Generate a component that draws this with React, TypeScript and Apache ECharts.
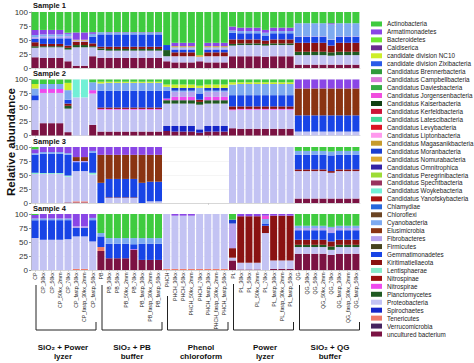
import React, { useEffect, useRef } from "react";
import * as echarts from "echarts";

// ---------- categories ----------
const categories = [
  "CP", "CP_30kx", "CP_50kx", "CP_50kx_2mm", "CP_70kx", "CP_fastp_30kx", "CP_fastp_30kx_2mm", "CP_fastp_50kx",
  "PB", "PB_30kx", "PB_50kx", "PB_50kx_2mm", "PB_70kx", "PB_fastp_30kx", "PB_fastp_30kx_2mm", "PB_fastp_50kx",
  "PHCH", "PHCH_30kx", "PHCH_50kx", "PHCH_50kx_2mm", "PHCH_70kx", "PHCH_fastp_30kx", "PHCH_fastp_30kx_2mm", "PHCH_fastp_50kx",
  "PL", "PL_30kx", "PL_50kx", "PL_50kx_2mm", "PL_70kx", "PL_fastp_30kx", "PL_fastp_30kx_2mm", "PL_fastp_50kx",
  "QG", "QG_30kx", "QG_50kx", "QG_50kx_2mm", "QG_70kx", "QG_fastp_30kx", "QG_fastp_30kx_2mm", "QG_fastp_50kx",
];
const yTicks = [0, 25, 50, 75, 100];
const panelTitles = ["Sample 1", "Sample 2", "Sample 3", "Sample 4"];
const groupLabels = ["SiO\u2082 + Power\nlyzer", "SiO\u2082 + PB\nbuffer", "Phenol\nchloroform", "Power\nlyzer", "SiO\u2082 + QG\nbuffer"];

// ---------- taxa (legend order) ----------
const taxa = [
  "Actinobacteria", "Armatimonadetes", "Bacteroidetes", "Caldiserica", "candidate division NC10",
  "candidate division Zixibacteria", "Candidatus Brennerbacteria", "Candidatus Campbellbacteria",
  "Candidatus Daviesbacteria", "Candidatus Jorgensenbacteria", "Candidatus Kaiserbacteria",
  "Candidatus Kerfeldbacteria", "Candidatus Latescibacteria", "Candidatus Levybacteria",
  "Candidatus Liptonbacteria", "Candidatus Magasanikbacteria", "Candidatus Moranbacteria",
  "Candidatus Nomurabacteria", "Candidatus Omnitrophica", "Candidatus Peregrinibacteria",
  "Candidatus Spechtbacteria", "Candidatus Woykebacteria", "Candidatus Yanofskybacteria",
  "Chlamydiae", "Chloroflexi", "Cyanobacteria", "Elusimicrobia", "Fibrobacteres", "Firmicutes",
  "Gemmatimonadetes", "Kiritimatiellaeota", "Lentisphaerae", "Nitrospinae", "Nitrospirae",
  "Planctomycetes", "Proteobacteria", "Spirochaetes", "Tenericutes", "Verrucomicrobia",
  "uncultured bacterium",
];
const taxaColors = [
  "#3fcb3f", "#8a46e6", "#6ee830", "#6b2d8f", "#cdee2a",
  "#2a5ae8", "#2f9a3a", "#d97ad9",
  "#35ac45", "#f04ede", "#123f12",
  "#cc1438", "#45d89a", "#dc1424",
  "#ff9aee", "#c79b2e", "#1a3ed0",
  "#dba935", "#3323a6", "#9ddc36",
  "#99335f", "#72f0d6", "#a81212",
  "#2767dc", "#6b4423", "#7eaaf0", "#8a3412", "#b6a2ee", "#45431f",
  "#1844e6", "#8a1212", "#86eccb", "#9a1111", "#ee4aee",
  "#1f5a22", "#c3c3f3", "#1526c8", "#ee7a68", "#46245f",
  "#7b1243",
];

// ---------- Sample 1 ----------
const s1Uncultured = [19, 18, 18, 18, 12, 4, 4, 21, 18, 18, 18, 18, 18, 18, 18, 18, 12, 10, 10, 10, 12, 10, 10, 10, 21, 21, 21, 21, 20, 21, 21, 21, 6, 6, 6, 6, 6, 6, 6, 6];
const s1Proteo = [17, 19, 19, 19, 21, 33, 33, 16, 14, 13, 13, 13, 13, 13, 13, 13, 9, 11, 11, 11, 8, 11, 11, 11, 19, 20, 20, 20, 20, 20, 20, 20, 17, 17, 17, 17, 16, 17, 17, 17];
const s1Plancto = [3, 2, 2, 2, 3, 4, 4, 2, 3, 3, 3, 3, 3, 3, 3, 3, 11, 0, 0, 0, 0, 0, 0, 0, 3, 3, 3, 3, 3, 3, 3, 3, 6, 6, 6, 6, 6, 6, 6, 6];
const s1Kiriti = [7, 4, 4, 4, 4, 6, 6, 5, 3, 4, 4, 4, 4, 4, 4, 4, 0, 7, 7, 7, 0, 7, 7, 7, 8, 7, 7, 7, 6, 7, 7, 7, 16, 16, 16, 16, 12, 16, 16, 16];
const s1Gemma = [6, 10, 10, 10, 13, 0, 0, 12, 22, 22, 22, 22, 22, 22, 22, 22, 9, 5, 5, 5, 0, 5, 5, 5, 12, 11, 11, 11, 9, 11, 11, 11, 11, 11, 11, 11, 10, 11, 11, 11];
const s1Fibro = [3, 3, 3, 3, 4, 2, 2, 0, 0, 0, 0, 0, 0, 0, 0, 0, 0, 2, 2, 2, 0, 2, 2, 2, 0, 0, 0, 0, 0, 0, 0, 0, 1, 1, 1, 1, 1, 1, 1, 1];
const s1Cyano = [4, 4, 4, 4, 4, 0, 0, 5, 4, 3, 3, 3, 3, 3, 3, 3, 0, 2, 2, 2, 0, 2, 2, 2, 4, 4, 4, 4, 5, 4, 4, 4, 23, 23, 23, 23, 27, 23, 23, 23];
const s1Nomura = [0, 0, 0, 0, 0, 1.5, 1.5, 0, 0, 0, 0, 0, 0, 0, 0, 0, 0, 2, 2, 2, 3, 2, 2, 2, 0, 0, 0, 0, 0, 0, 0, 0, 0, 0, 0, 0, 0, 0, 0, 0];
const s1Armati = [9, 8, 8, 8, 2, 13, 13, 3, 0, 1, 1, 1, 1, 1, 1, 1, 0, 6, 6, 6, 0, 6, 6, 6, 7, 6, 6, 6, 5, 6, 6, 6, 0, 0, 0, 0, 2, 0, 0, 0];
const s1Actino = [32, 32, 32, 32, 37, 36.5, 36.5, 36, 36, 36, 36, 36, 36, 36, 36, 36, 59, 55, 55, 55, 77, 55, 55, 55, 26, 28, 28, 28, 32, 28, 28, 28, 20, 20, 20, 20, 20, 20, 20, 20];

// ---------- Sample 2 ----------
const s2Uncultured = [10, 22, 22, 22, 6, 0, 0, 19, 7, 7, 7, 7, 7, 7, 7, 7, 8, 7, 7, 7, 5, 7, 7, 7, 13, 12, 12, 12, 12, 12, 12, 12, 0, 0, 0, 0, 0, 0, 0, 0];
const s2Spiro = [0, 0, 0, 0, 0, 0, 0, 0, 0, 0, 0, 0, 0, 0, 0, 0, 9, 10, 10, 10, 6, 10, 10, 10, 0, 0, 0, 0, 0, 0, 0, 0, 0, 0, 0, 0, 0, 0, 0, 0];
const s2Proteo = [53, 54, 54, 54, 42, 68, 68, 56, 39, 39, 39, 39, 39, 39, 39, 39, 40, 40, 40, 40, 44, 40, 40, 40, 32, 34, 34, 34, 34, 34, 34, 34, 7, 7, 7, 7, 7, 7, 7, 7];
const s2Plancto = [0, 0, 0, 0, 5, 0, 0, 0, 0, 0, 0, 0, 0, 0, 0, 0, 6, 6, 6, 6, 5, 6, 6, 6, 0, 0, 0, 0, 0, 0, 0, 0, 0, 0, 0, 0, 0, 0, 0, 0];
const s2Nitrospirae = [0, 7, 7, 7, 0, 0, 0, 6, 1.5, 1.5, 1.5, 1.5, 1.5, 1.5, 1.5, 1.5, 3, 6, 6, 6, 0, 6, 6, 6, 1.5, 1.5, 1.5, 1.5, 1.5, 1.5, 1.5, 1.5, 0, 0, 0, 0, 0, 0, 0, 0];
const s2Kiriti = [0, 0, 0, 0, 4, 0, 0, 0, 2.5, 2.5, 2.5, 2.5, 2.5, 2.5, 2.5, 2.5, 0, 0, 0, 0, 4, 0, 0, 0, 5.5, 4.5, 4.5, 4.5, 4.5, 4.5, 4.5, 4.5, 0, 0, 0, 0, 0, 0, 0, 0];
const s2Gemma = [9, 0, 0, 0, 7, 0, 0, 0, 30, 30, 30, 30, 30, 30, 30, 30, 14, 0, 0, 0, 11, 0, 0, 0, 20, 20, 20, 20, 20, 20, 20, 20, 29, 29, 29, 29, 29, 29, 29, 29];
const s2Fibro = [0, 0, 0, 0, 0, 0, 0, 0, 0, 0, 0, 0, 0, 0, 0, 0, 0, 9, 9, 9, 0, 9, 9, 9, 0, 0, 0, 0, 0, 0, 0, 0, 0, 0, 0, 0, 0, 0, 0, 0];
const s2Elusi = [0, 0, 0, 0, 0, 0, 0, 0, 0, 0, 0, 0, 0, 0, 0, 0, 0, 0, 0, 0, 0, 0, 0, 0, 0, 0, 0, 0, 0, 0, 0, 0, 48, 48, 48, 48, 48, 48, 48, 48];
const s2Cyano = [12, 9, 9, 9, 17, 0, 0, 14, 13, 14, 14, 14, 14, 14, 14, 14, 7, 2, 2, 2, 10, 2, 2, 2, 19, 20, 20, 20, 20, 20, 20, 20, 0, 0, 0, 0, 0, 0, 0, 0];
const s2Moran = [0, 0, 0, 0, 0, 0, 0, 0, 0, 0, 0, 0, 0, 0, 0, 0, 0, 5, 5, 5, 0, 5, 5, 5, 0, 0, 0, 0, 0, 0, 0, 0, 0, 0, 0, 0, 0, 0, 0, 0];
const s2Woyke = [0, 0, 0, 0, 0, 32, 32, 0, 0, 0, 0, 0, 0, 0, 0, 0, 0, 0, 0, 0, 0, 0, 0, 0, 0, 0, 0, 0, 0, 0, 0, 0, 0, 0, 0, 0, 0, 0, 0, 0];
const s2NC10 = [8, 0, 0, 0, 13, 0, 0, 0, 3, 2, 2, 2, 2, 2, 2, 2, 4, 6, 6, 6, 4, 6, 6, 6, 4, 3, 3, 3, 3, 3, 3, 3, 0, 0, 0, 0, 0, 0, 0, 0];
const s2Armati = [0, 0, 0, 0, 0, 0, 0, 0, 0, 0, 0, 0, 0, 0, 0, 0, 0, 0, 0, 0, 0, 0, 0, 0, 0, 0, 0, 0, 0, 0, 0, 0, 16, 16, 16, 16, 16, 16, 16, 16];
const s2Actino = [8, 8, 8, 8, 6, 0, 0, 5, 4, 4, 4, 4, 4, 4, 4, 4, 9, 9, 9, 9, 11, 9, 9, 9, 5, 5, 5, 5, 5, 5, 5, 5, 0, 0, 0, 0, 0, 0, 0, 0];

// ---------- Sample 3 ----------
const s3Uncultured = [0, 0, 0, 0, 1, 1, 1, 0, 0, 0, 0, 0, 0, 0, 0, 0, 0, 0, 0, 0, 0, 0, 0, 0, 0, 0, 0, 0, 0, 0, 0, 0, 8, 8, 8, 8, 8, 8, 8, 8];
const s3Teneri = [0, 0, 0, 0, 0, 2, 2, 0, 0, 0, 0, 0, 0, 0, 0, 0, 0, 0, 0, 0, 0, 0, 0, 0, 0, 0, 0, 0, 0, 0, 0, 0, 0, 0, 0, 0, 0, 0, 0, 0];
const s3Proteo = [52, 52, 52, 52, 46, 54, 54, 51, 0, 9, 9, 9, 9, 0, 3, 3, 0, 0, 0, 0, 0, 0, 0, 0, 100, 100, 100, 100, 100, 100, 100, 100, 49, 49, 49, 49, 46, 49, 49, 49];
const s3Lentis = [2, 1.5, 1.5, 1.5, 2, 0, 0, 3, 0, 0, 0, 0, 0, 0, 0, 0, 0, 0, 0, 0, 0, 0, 0, 0, 0, 0, 0, 0, 0, 0, 0, 0, 0, 0, 0, 0, 0, 0, 0, 0];
const s3Kiriti = [0, 0, 0, 0, 0, 0, 0, 0, 0, 1, 1, 1, 1, 0, 0, 0, 0, 0, 0, 0, 0, 0, 0, 0, 0, 0, 0, 0, 0, 0, 0, 0, 3, 3, 3, 3, 3, 3, 3, 3];
const s3Gemma = [32, 34.5, 34.5, 34.5, 37, 16, 16, 36, 36, 33, 33, 33, 33, 36, 35, 35, 0, 0, 0, 0, 0, 0, 0, 0, 0, 0, 0, 0, 0, 0, 0, 0, 26, 26, 26, 26, 28, 26, 26, 26];
const s3Fibro = [0, 0, 0, 0, 0, 2, 2, 0, 0, 0, 0, 0, 0, 0, 0, 0, 0, 0, 0, 0, 0, 0, 0, 0, 0, 0, 0, 0, 0, 0, 0, 0, 0, 0, 0, 0, 0, 0, 0, 0];
const s3Elusi = [0, 0, 0, 0, 0, 7, 7, 0, 50, 43, 43, 43, 43, 50, 48, 48, 0, 0, 0, 0, 0, 0, 0, 0, 0, 0, 0, 0, 0, 0, 0, 0, 0, 0, 0, 0, 0, 0, 0, 0];
const s3Cyano = [3, 3, 3, 3, 3, 0, 0, 3, 0, 0, 0, 0, 0, 0, 0, 0, 0, 0, 0, 0, 0, 0, 0, 0, 0, 0, 0, 0, 0, 0, 0, 0, 7, 7, 7, 7, 7, 7, 7, 7];
const s3Armati = [7, 9, 9, 9, 11, 18, 18, 7, 14, 14, 14, 14, 14, 14, 14, 14, 0, 0, 0, 0, 0, 0, 0, 0, 0, 0, 0, 0, 0, 0, 0, 0, 0, 0, 0, 0, 0, 0, 0, 0];
const s3Actino = [4, 0, 0, 0, 0, 0, 0, 0, 0, 0, 0, 0, 0, 0, 0, 0, 0, 0, 0, 0, 0, 0, 0, 0, 0, 0, 0, 0, 0, 0, 0, 0, 7, 7, 7, 7, 8, 7, 7, 7];

// ---------- Sample 4 ----------
const s4Uncultured = [0, 0, 0, 0, 0, 0, 0, 0, 34, 21, 21, 21, 36, 18, 18, 18, 0, 0, 0, 0, 0, 0, 0, 0, 17, 1, 1, 1, 0, 2, 2, 2, 29, 29, 29, 29, 27, 29, 29, 29];
const s4Teneri = [0, 0, 0, 0, 0, 2, 2, 0, 7, 0, 0, 0, 0, 0, 0, 0, 2, 2, 2, 2, 2, 2, 2, 2, 0, 0, 0, 0, 0, 0, 0, 0, 0, 0, 0, 0, 0, 0, 0, 0];
const s4Proteo = [57, 54, 54, 54, 55, 58, 58, 51, 0, 0, 0, 0, 0, 0, 0, 0, 98, 95, 95, 95, 98, 98, 98, 98, 5, 12, 12, 12, 66, 15, 15, 15, 12, 12, 12, 12, 9, 12, 12, 12];
const s4Plancto = [0, 0, 0, 0, 0, 0, 0, 0, 0, 0, 0, 0, 0, 0, 0, 0, 0, 0, 0, 0, 0, 0, 0, 0, 0, 0, 0, 0, 0, 0, 0, 0, 4, 4, 4, 4, 6, 4, 4, 4];
const s4Nitrospirae = [0, 0, 0, 0, 0, 0, 0, 0, 0, 0, 0, 0, 1, 0, 0, 0, 0, 0, 0, 0, 0, 0, 0, 0, 0, 0, 0, 0, 0, 0, 0, 0, 0, 0, 0, 0, 0, 0, 0, 0];
const s4Kiriti = [0, 0, 0, 0, 0, 0, 0, 0, 0, 0, 0, 0, 0, 0, 0, 0, 0, 0, 0, 0, 0, 0, 0, 0, 17, 83, 83, 83, 13, 80, 80, 80, 9, 9, 9, 9, 9, 9, 9, 9];
const s4Gemma = [32, 35, 35, 35, 34, 15, 15, 38, 19, 26, 26, 26, 9, 29, 29, 29, 0, 0, 0, 0, 0, 0, 0, 0, 0, 0, 0, 0, 4, 0, 0, 0, 17, 17, 17, 17, 15, 17, 17, 17];
const s4Fibro = [0, 0, 0, 0, 0, 3, 3, 0, 0, 0, 0, 0, 0, 0, 0, 0, 0, 0, 0, 0, 0, 0, 0, 0, 44, 0, 0, 0, 0, 0, 0, 0, 4, 4, 4, 4, 9, 4, 4, 4];
const s4Cyano = [3, 3, 3, 3, 3, 0, 0, 4, 6, 10, 10, 10, 11, 10, 10, 10, 0, 0, 0, 0, 0, 0, 0, 0, 0, 0, 0, 0, 8, 0, 0, 0, 4, 4, 4, 4, 2, 4, 4, 4];
const s4Moran = [0, 0, 0, 0, 0, 0, 0, 0, 0, 0, 0, 0, 0, 0, 0, 0, 0, 0, 0, 0, 0, 0, 0, 0, 7, 0, 0, 0, 0, 0, 0, 0, 0, 0, 0, 0, 0, 0, 0, 0];
const s4Jorgen = [0, 0, 0, 0, 0, 0, 0, 0, 0, 0, 0, 0, 0, 0, 0, 0, 0, 0, 0, 0, 0, 0, 0, 0, 0, 0, 0, 0, 6, 0, 0, 0, 0, 0, 0, 0, 0, 0, 0, 0];
const s4Armati = [6, 8, 8, 8, 8, 22, 22, 7, 0, 0, 0, 0, 0, 0, 0, 0, 0, 3, 3, 3, 0, 0, 0, 0, 0, 4, 4, 4, 3, 3, 3, 3, 0, 0, 0, 0, 0, 0, 0, 0];
const s4Actino = [2, 0, 0, 0, 0, 0, 0, 0, 34, 43, 43, 43, 43, 43, 43, 43, 0, 0, 0, 0, 0, 0, 0, 0, 10, 0, 0, 0, 0, 0, 0, 0, 21, 21, 21, 21, 23, 21, 21, 21];

// lookup tables per panel (built from the named arrays)
const sample1: Record<string, number[]> = {
  "uncultured bacterium": s1Uncultured, Proteobacteria: s1Proteo, Planctomycetes: s1Plancto,
  Kiritimatiellaeota: s1Kiriti, Gemmatimonadetes: s1Gemma, Fibrobacteres: s1Fibro, Cyanobacteria: s1Cyano,
  "Candidatus Nomurabacteria": s1Nomura, Armatimonadetes: s1Armati, Actinobacteria: s1Actino,
};
const sample2: Record<string, number[]> = {
  "uncultured bacterium": s2Uncultured, Spirochaetes: s2Spiro, Proteobacteria: s2Proteo, Planctomycetes: s2Plancto,
  Nitrospirae: s2Nitrospirae, Kiritimatiellaeota: s2Kiriti, Gemmatimonadetes: s2Gemma, Fibrobacteres: s2Fibro,
  Elusimicrobia: s2Elusi, Cyanobacteria: s2Cyano, "Candidatus Moranbacteria": s2Moran,
  "Candidatus Woykebacteria": s2Woyke, "candidate division NC10": s2NC10, Armatimonadetes: s2Armati,
  Actinobacteria: s2Actino,
};
const sample3: Record<string, number[]> = {
  "uncultured bacterium": s3Uncultured, Tenericutes: s3Teneri, Proteobacteria: s3Proteo, Lentisphaerae: s3Lentis,
  Kiritimatiellaeota: s3Kiriti, Gemmatimonadetes: s3Gemma, Fibrobacteres: s3Fibro, Elusimicrobia: s3Elusi,
  Cyanobacteria: s3Cyano, Armatimonadetes: s3Armati, Actinobacteria: s3Actino,
};
const sample4: Record<string, number[]> = {
  "uncultured bacterium": s4Uncultured, Tenericutes: s4Teneri, Proteobacteria: s4Proteo, Planctomycetes: s4Plancto,
  Nitrospirae: s4Nitrospirae, Kiritimatiellaeota: s4Kiriti, Gemmatimonadetes: s4Gemma, Fibrobacteres: s4Fibro,
  Cyanobacteria: s4Cyano, "Candidatus Moranbacteria": s4Moran, "Candidatus Jorgensenbacteria": s4Jorgen,
  Armatimonadetes: s4Armati, Actinobacteria: s4Actino,
};

const FONT = '"Liberation Sans", Arial, Helvetica, sans-serif';

export default function App() {
  const ref = useRef<HTMLDivElement>(null);

  useEffect(() => {
    if (!ref.current) return;
    const chart = echarts.init(ref.current, null, { renderer: "svg" });
    const panels = [sample1, sample2, sample3, sample4];
    const panelTops = [12, 79.5, 147, 214];
    const panelH = 56;

    const grids = panelTops.map((t) => ({ left: 31, top: t, width: 329, height: panelH }));
    const xAxes = panelTops.map((_, i) => ({
      type: "category",
      gridIndex: i,
      data: categories,
      axisLine: { show: true, lineStyle: { color: "#cfcfcf", width: 0.8 } },
      axisTick: { show: true, length: 2, alignWithLabel: true, lineStyle: { color: "#bdbdbd", width: 0.6 } },
      axisLabel: i === 3
        ? { show: true, rotate: 90, interval: 0, fontSize: 5.2, margin: 2.5, color: "#222", fontFamily: FONT }
        : { show: false },
      splitLine: { show: false },
    }));
    const yAxes = panelTops.map((_, i) => ({
      type: "value",
      gridIndex: i,
      min: 0,
      max: 100,
      interval: 25,
      axisLine: { show: true, lineStyle: { color: "#9a9a9a", width: 0.8 } },
      axisTick: { show: true, length: 2, lineStyle: { color: "#777", width: 0.8 } },
      axisLabel: { fontSize: 8, color: "#333", margin: 3, fontFamily: FONT, formatter: (v: number) => (yTicks.includes(v) ? String(v) : "") },
      splitLine: { show: true, lineStyle: { color: "#efefef", width: 0.6 } },
    }));

    const stackOrder = [...taxa].reverse();
    const series: any[] = [];
    panels.forEach((panel, p) => {
      stackOrder.forEach((name) => {
        const idx = taxa.indexOf(name);
        series.push({
          type: "bar",
          name,
          xAxisIndex: p,
          yAxisIndex: p,
          stack: "panel" + p,
          barCategoryGap: "15%",
          itemStyle: { color: taxaColors[idx] },
          data: panel[name] || [],
        });
      });
    });

    const titleY = [5.5, 73.5, 141, 208];
    const brackets = [
      { l: 36, r: 96, top: 285 },
      { l: 102, r: 162, top: 285 },
      { l: 167.5, r: 228, top: 296 },
      { l: 233.5, r: 293.5, top: 284 },
      { l: 299.5, r: 359.5, top: 285 },
    ];
    const labelCx = [63, 132, 201, 265, 330];
    const graphic: any[] = [];
    panelTitles.forEach((t, i) => {
      graphic.push({
        type: "text",
        x: 33,
        y: titleY[i],
        style: { text: t, font: `bold 7.5px ${FONT}`, fill: "#111", align: "left", verticalAlign: "middle", textAlign: "left", textVerticalAlign: "middle" },
      });
    });
    graphic.push({
      type: "text",
      x: 11,
      y: 142,
      rotation: Math.PI / 2,
      style: { text: "Relative abundance", font: `bold 11.5px ${FONT}`, fill: "#111", align: "center", verticalAlign: "middle", textAlign: "center", textVerticalAlign: "middle" },
    });
    brackets.forEach((b, i) => {
      graphic.push({
        type: "polyline",
        shape: { points: [[b.l, b.top], [b.l, 330], [b.r, 330], [b.r, 322]] },
        style: { stroke: "#222", lineWidth: 1, fill: null },
      });
      graphic.push({
        type: "text",
        x: labelCx[i],
        y: 352,
        style: { text: groupLabels[i], font: `bold 8px ${FONT}`, lineHeight: 9.5, fill: "#111", align: "center", verticalAlign: "middle", textAlign: "center", textVerticalAlign: "middle" },
      });
    });

    chart.setOption({
      animation: false,
      backgroundColor: "#fff",
      grid: grids,
      xAxis: xAxes,
      yAxis: yAxes,
      legend: {
        data: taxa,
        orient: "vertical",
        left: 366,
        top: 15,
        itemWidth: 11,
        itemHeight: 5,
        itemGap: 0,
        icon: "rect",
        selectedMode: false,
        textStyle: { fontSize: 6.3, lineHeight: 7.95, color: "#222", fontFamily: FONT },
      },
      graphic,
      series,
    });
    return () => chart.dispose();
  }, []);

  return <div ref={ref} style={{ position: "absolute", left: 0, top: 0, width: 474, height: 363 }} />;
}
